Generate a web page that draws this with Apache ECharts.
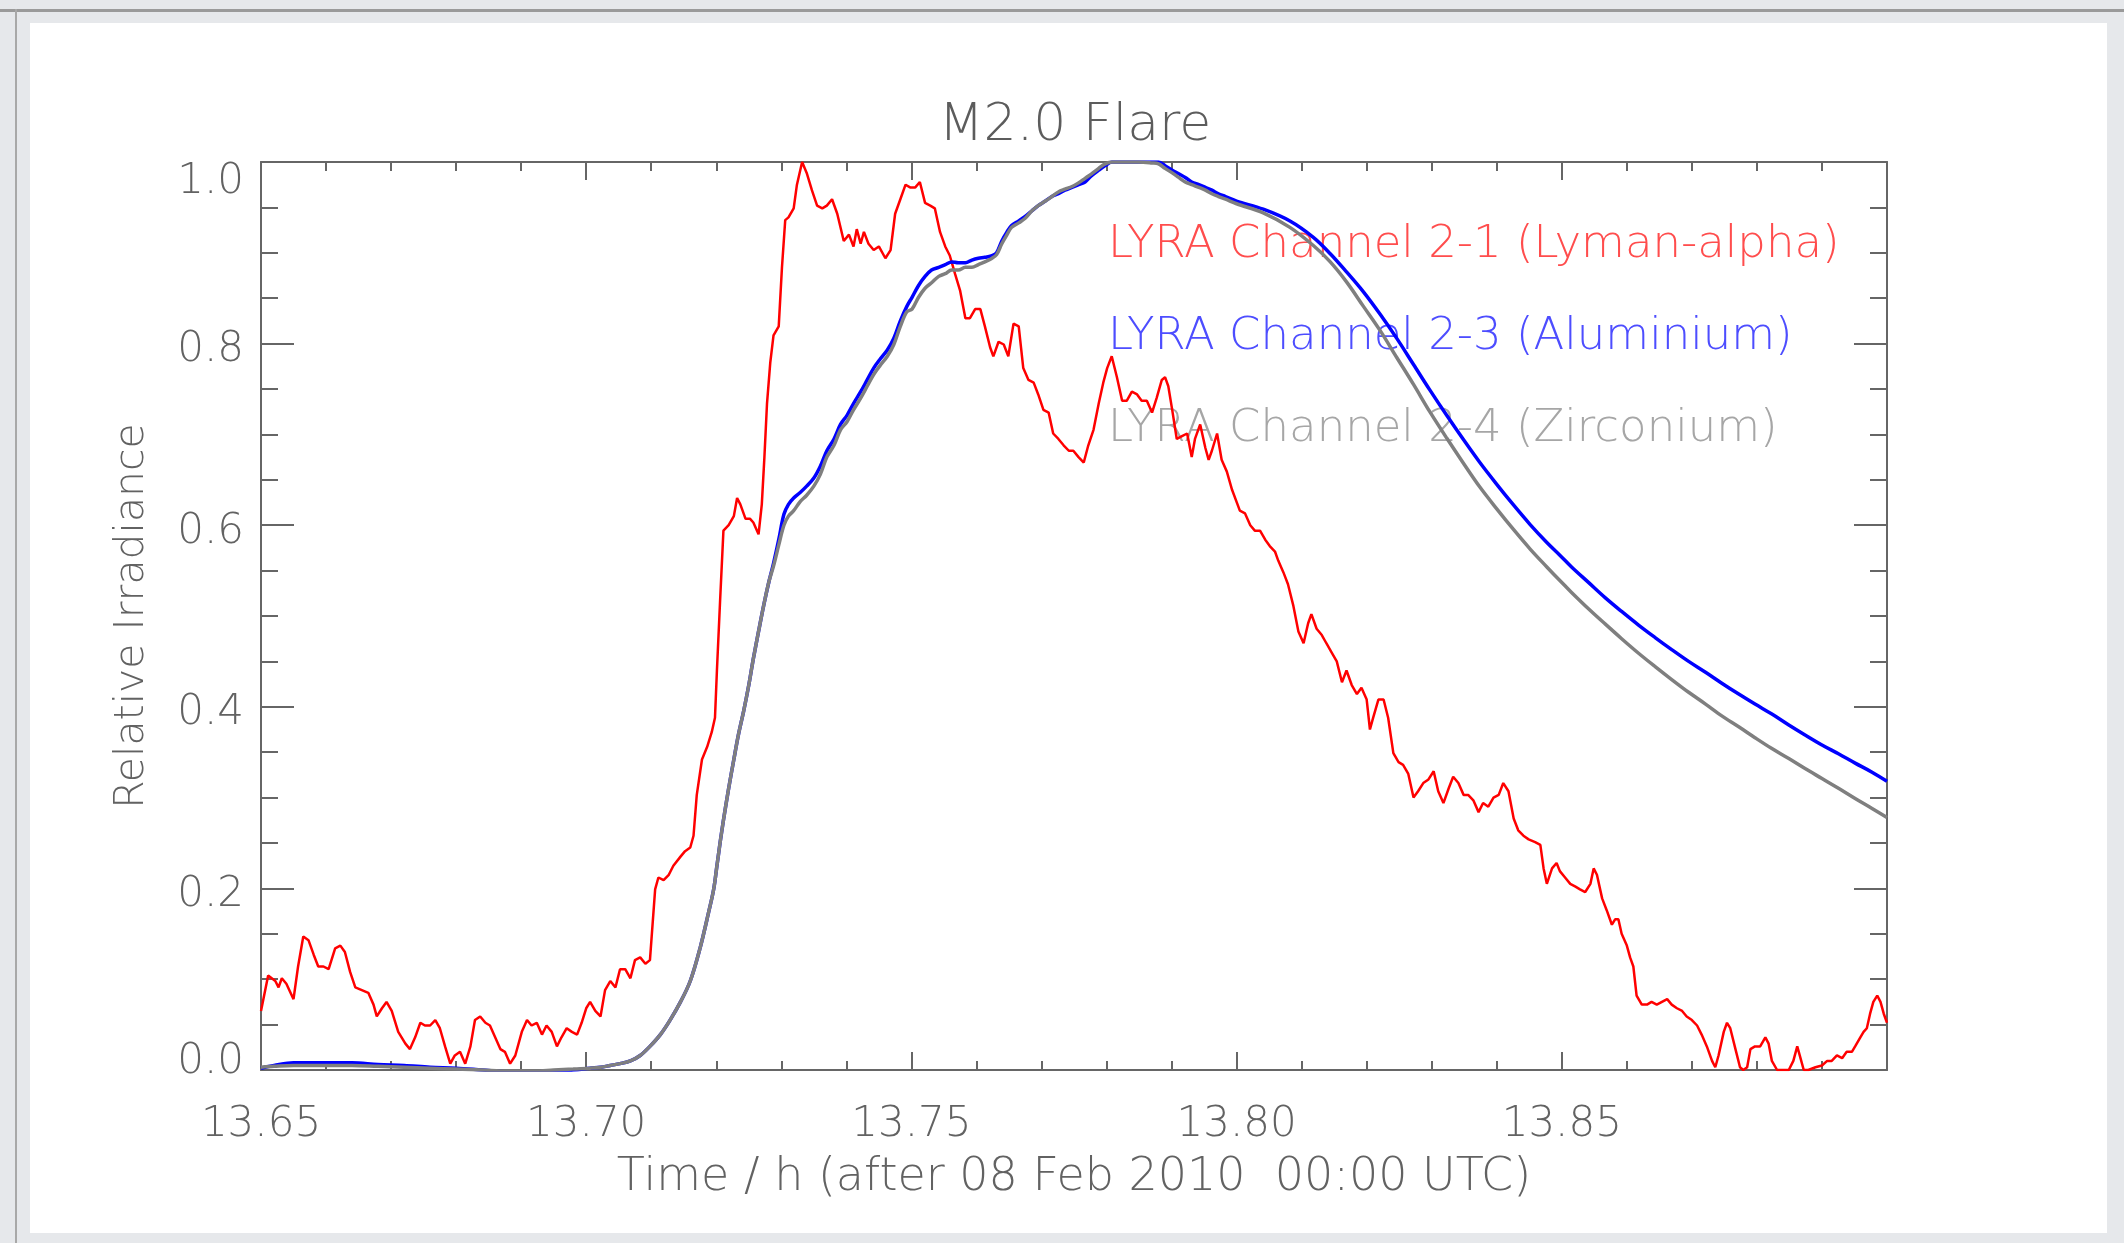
<!DOCTYPE html>
<html>
<head>
<meta charset="utf-8">
<title>M2.0 Flare</title>
<script src="https://cdn.jsdelivr.net/npm/echarts@6/dist/echarts.min.js"></script>
<style>
  html, body { margin: 0; padding: 0; width: 2124px; height: 1243px; overflow: hidden; background: #e6e8eb; }
  #topRule { position: absolute; left: 0; top: 9px; width: 2124px; height: 3px; background: #9a9a9a; }
  #leftRule { position: absolute; left: 15px; top: 9px; width: 2px; height: 1234px; background: #a8a8a8; }
  #panel { position: absolute; left: 30px; top: 23px; width: 2077px; height: 1210px; background: #ffffff; }
  #chart { position: absolute; left: 0; top: 0; width: 2124px; height: 1243px; }
</style>
</head>
<body>
<div id="topRule"></div>
<div id="leftRule"></div>
<div id="panel"></div>
<div id="chart"></div>
<script>
// Time axis, hours after 08 Feb 2010 00:00 UTC
const timeRange = [13.65, 13.90];
const timeStep = 0.05;
const irradianceRange = [0, 1];
const irradianceStep = 0.2;

// LYRA channel 2-1 (Lyman-alpha), normalised
const timeLyman = [
  13.6500,13.6511,13.6522,13.6527,13.6532,13.6539,13.6550,13.6557,13.6565,13.6573,
  13.6581,13.6588,13.6596,13.6604,13.6614,13.6622,13.6629,13.6637,13.6645,13.6655,
  13.6665,13.6673,13.6678,13.6686,13.6693,13.6701,13.6711,13.6722,13.6729,13.6737,
  13.6745,13.6752,13.6760,13.6768,13.6775,13.6783,13.6791,13.6798,13.6806,13.6814,
  13.6822,13.6829,13.6837,13.6845,13.6852,13.6860,13.6868,13.6875,13.6883,13.6891,
  13.6901,13.6909,13.6916,13.6924,13.6932,13.6939,13.6947,13.6955,13.6962,13.6970,
  13.6978,13.6986,13.6993,
  13.7000,13.7006,13.7014,13.7022,13.7029,13.7037,13.7045,13.7052,13.7060,13.7068,
  13.7075,13.7083,13.7091,13.7098,13.7106,13.7111,13.7119,13.7127,13.7134,13.7145,
  13.7152,13.7160,13.7165,13.7170,13.7178,13.7186,13.7193,13.7198,13.7201,13.7206,
  13.7211,13.7219,13.7227,13.7232,13.7237,13.7245,13.7252,13.7257,13.7265,13.7270,
  13.7274,13.7278,13.7283,13.7288,13.7296,13.7301,13.7306,13.7311,13.7319,13.7324,
  13.7332,13.7339,13.7347,13.7355,13.7363,13.7370,13.7378,13.7386,13.7396,13.7404,
  13.7411,13.7416,13.7422,13.7427,13.7434,13.7442,13.7450,13.7460,13.7468,13.7475,
  13.7483,13.7491,13.7498,
  13.7506,13.7513,13.7521,13.7529,13.7536,13.7544,13.7552,13.7559,13.7567,13.7575,
  13.7583,13.7590,13.7598,13.7606,13.7613,13.7621,13.7626,13.7634,13.7642,13.7649,
  13.7657,13.7665,13.7672,13.7680,13.7688,13.7695,13.7703,13.7711,13.7718,13.7726,
  13.7734,13.7742,13.7749,13.7757,13.7765,13.7772,13.7780,13.7788,13.7795,13.7801,
  13.7808,13.7816,13.7824,13.7831,13.7839,13.7847,13.7854,13.7862,13.7870,13.7877,
  13.7885,13.7890,13.7895,13.7901,13.7908,13.7916,13.7924,13.7931,13.7936,13.7944,
  13.7952,13.7957,13.7962,13.7970,13.7977,13.7985,13.7993,
  13.8005,13.8013,13.8021,13.8028,13.8036,13.8044,13.8051,13.8059,13.8064,13.8072,
  13.8079,13.8087,13.8095,13.8103,13.8110,13.8115,13.8123,13.8131,13.8138,13.8146,
  13.8154,13.8162,13.8169,13.8177,13.8185,13.8192,13.8200,13.8205,13.8210,13.8218,
  13.8226,13.8233,13.8241,13.8249,13.8256,13.8264,13.8272,13.8279,13.8287,13.8295,
  13.8303,13.8310,13.8318,13.8326,13.8333,13.8341,13.8349,13.8356,13.8364,13.8372,
  13.8379,13.8387,13.8395,13.8403,13.8410,13.8418,13.8426,13.8433,13.8441,13.8449,
  13.8459,13.8467,13.8472,13.8477,13.8485,13.8492,
  13.8497,13.8505,13.8513,13.8521,13.8528,13.8536,13.8544,13.8549,13.8554,13.8562,
  13.8569,13.8577,13.8582,13.8587,13.8592,13.8600,13.8605,13.8610,13.8615,13.8623,
  13.8631,13.8638,13.8646,13.8654,13.8662,13.8669,13.8677,13.8685,13.8692,13.8700,
  13.8708,13.8715,13.8723,13.8731,13.8736,13.8741,13.8749,13.8754,13.8759,13.8767,
  13.8774,13.8779,13.8785,13.8790,13.8797,13.8805,13.8813,13.8818,13.8823,13.8831,
  13.8838,13.8849,13.8856,13.8862,13.8867,13.8872,13.8879,13.8890,13.8900,13.8908,
  13.8915,13.8923,13.8931,13.8938,13.8946,13.8951,13.8959,13.8964,13.8969,13.8974,
  13.8979,13.8985,13.8990,13.8995,13.9000
];
const lymanAlpha = [
  0.065,0.104,0.098,0.091,0.101,0.095,0.078,0.114,0.147,0.143,
  0.127,0.114,0.114,0.111,0.134,0.137,0.130,0.108,0.091,0.088,
  0.085,0.072,0.059,0.068,0.075,0.065,0.042,0.029,0.023,0.036,
  0.052,0.049,0.049,0.055,0.046,0.026,0.007,0.016,0.020,0.007,
  0.026,0.055,0.059,0.052,0.049,0.036,0.023,0.020,0.007,0.016,
  0.042,0.055,0.049,0.052,0.039,0.049,0.042,0.026,0.036,0.046,
  0.042,0.039,0.052,
  0.068,0.075,0.065,0.059,0.088,0.098,0.091,0.111,0.111,0.101,
  0.121,0.124,0.117,0.121,0.199,0.212,0.209,0.215,0.225,0.235,
  0.241,0.245,0.258,0.303,0.342,0.356,0.372,0.388,0.440,0.519,
  0.594,0.600,0.610,0.630,0.623,0.607,0.607,0.603,0.590,0.623,
  0.675,0.734,0.779,0.809,0.819,0.884,0.936,0.939,0.949,0.975,
  1.000,0.988,0.969,0.952,0.949,0.952,0.959,0.943,0.913,0.920,
  0.907,0.926,0.910,0.923,0.910,0.903,0.907,0.894,0.903,0.943,
  0.959,0.975,0.972,
  0.972,0.978,0.955,0.952,0.949,0.923,0.907,0.897,0.877,0.858,
  0.828,0.828,0.838,0.838,0.819,0.796,0.786,0.802,0.799,0.786,
  0.822,0.819,0.773,0.760,0.757,0.744,0.727,0.724,0.701,0.695,
  0.688,0.682,0.682,0.675,0.669,0.688,0.705,0.734,0.757,0.773,
  0.786,0.763,0.737,0.737,0.747,0.744,0.737,0.737,0.724,0.740,
  0.760,0.763,0.753,0.727,0.695,0.698,0.701,0.675,0.695,0.711,
  0.685,0.672,0.682,0.701,0.672,0.659,0.639,
  0.616,0.613,0.600,0.594,0.594,0.584,0.577,0.571,0.561,0.548,
  0.535,0.512,0.483,0.470,0.492,0.502,0.486,0.479,0.470,0.460,
  0.450,0.427,0.440,0.424,0.414,0.421,0.408,0.375,0.388,0.408,
  0.408,0.388,0.349,0.339,0.336,0.326,0.300,0.307,0.316,0.320,
  0.329,0.307,0.294,0.310,0.323,0.316,0.303,0.303,0.297,0.284,
  0.294,0.290,0.300,0.303,0.316,0.307,0.277,0.264,0.258,0.254,
  0.251,0.248,0.222,0.205,0.222,0.228,
  0.219,0.212,0.205,0.202,0.199,0.196,0.205,0.222,0.215,0.189,
  0.176,0.160,0.166,0.166,0.150,0.137,0.124,0.114,0.082,0.072,
  0.072,0.075,0.072,0.075,0.078,0.072,0.068,0.065,0.059,0.055,
  0.049,0.039,0.026,0.010,0.003,0.016,0.042,0.052,0.046,0.023,
  0.003,0.000,0.003,0.023,0.026,0.026,0.036,0.029,0.010,0.000,
  0.000,0.000,0.010,0.026,0.013,0.000,0.000,0.003,0.005,0.010,
  0.010,0.016,0.013,0.020,0.020,0.026,0.036,0.042,0.046,0.062,
  0.075,0.082,0.075,0.062,0.052
];

// LYRA channels 2-3 (Aluminium) and 2-4 (Zirconium), normalised, common sampling
const timeEuv = [
  13.6500,13.6520,13.6550,13.6600,13.6640,13.6680,13.6720,13.6760,13.6800,13.6840,
  13.6880,13.6920,13.6950,13.6980,13.7006,13.7022,13.7037,13.7052,13.7068,13.7083,
  13.7098,13.7114,13.7129,13.7145,13.7160,13.7175,13.7188,13.7196,13.7201,13.7206,
  13.7211,13.7219,13.7227,13.7234,13.7242,13.7250,13.7257,13.7265,13.7273,13.7281,
  13.7288,13.7296,13.7304,13.7311,13.7319,13.7329,13.7339,13.7350,13.7360,13.7370,
  13.7381,13.7391,13.7401,13.7411,13.7422,13.7432,13.7442,13.7452,13.7463,13.7473,
  13.7483,13.7493,13.7501,13.7511,13.7521,13.7531,13.7542,13.7552,13.7562,13.7572,
  13.7583,13.7593,13.7603,13.7613,13.7624,13.7631,13.7639,13.7647,13.7654,13.7665,
  13.7675,13.7685,13.7695,13.7706,13.7716,13.7726,13.7736,13.7747,13.7757,13.7767,
  13.7777,13.7788,13.7798,13.7808,13.7818,13.7849,13.7870,13.7880,13.7890,13.7901,
  13.7911,13.7921,13.7931,13.7942,13.7952,13.7962,13.7972,13.7983,13.8000,13.8041,
  13.8082,13.8118,13.8144,13.8169,13.8195,13.8221,13.8246,13.8272,13.8297,13.8323,
  13.8349,13.8374,13.8400,13.8426,13.8451,13.8477,13.8497,13.8515,13.8541,13.8567,
  13.8592,13.8618,13.8644,13.8669,13.8695,13.8721,13.8746,13.8772,13.8797,13.8823,
  13.8849,13.8874,13.8900,13.8926,13.8951,13.8977,13.9000
];
const aluminium = [
  0.002,0.005,0.008,0.008,0.008,0.006,0.005,0.003,0.002,0.000,
  -0.002,-0.002,-0.001,0.000,0.002,0.003,0.005,0.007,0.010,0.016,
  0.026,0.039,0.055,0.075,0.098,0.134,0.173,0.199,0.225,0.251,
  0.275,0.310,0.342,0.369,0.395,0.424,0.453,0.483,0.512,0.538,
  0.558,0.584,0.612,0.623,0.630,0.636,0.643,0.652,0.665,0.682,
  0.695,0.711,0.721,0.734,0.747,0.760,0.773,0.783,0.793,0.806,
  0.825,0.841,0.851,0.864,0.874,0.881,0.884,0.887,0.890,0.889,
  0.889,0.892,0.894,0.895,0.897,0.900,0.913,0.923,0.930,0.935,
  0.940,0.946,0.952,0.957,0.962,0.965,0.969,0.972,0.975,0.978,
  0.985,0.991,0.996,1.000,1.000,1.000,1.000,1.000,0.996,0.991,
  0.987,0.983,0.978,0.975,0.972,0.969,0.965,0.962,0.957,0.948,
  0.935,0.917,0.899,0.879,0.857,0.832,0.806,0.777,0.749,0.721,
  0.694,0.669,0.645,0.622,0.601,0.581,0.567,0.554,0.537,0.520,
  0.505,0.490,0.476,0.463,0.450,0.438,0.426,0.414,0.403,0.392,
  0.380,0.369,0.358,0.348,0.338,0.328,0.318
];
const zirconium = [
  0.003,0.004,0.005,0.005,0.005,0.004,0.003,0.002,0.001,0.000,
  -0.001,-0.001,0.000,0.001,0.002,0.003,0.005,0.007,0.010,0.016,
  0.026,0.039,0.055,0.075,0.098,0.134,0.173,0.199,0.225,0.251,
  0.275,0.310,0.342,0.369,0.395,0.424,0.453,0.483,0.512,0.538,
  0.555,0.578,0.600,0.610,0.616,0.626,0.633,0.643,0.656,0.675,
  0.688,0.705,0.714,0.727,0.740,0.753,0.766,0.776,0.786,0.799,
  0.819,0.835,0.838,0.851,0.861,0.867,0.874,0.877,0.881,0.881,
  0.884,0.884,0.887,0.890,0.894,0.898,0.910,0.920,0.928,0.933,
  0.938,0.946,0.952,0.957,0.962,0.967,0.970,0.973,0.977,0.982,
  0.987,0.993,0.998,1.000,1.000,1.000,0.999,0.998,0.993,0.988,
  0.983,0.978,0.975,0.972,0.969,0.965,0.962,0.959,0.954,0.944,
  0.928,0.908,0.890,0.868,0.841,0.814,0.785,0.755,0.725,0.696,
  0.668,0.642,0.618,0.595,0.574,0.554,0.539,0.526,0.508,0.491,
  0.475,0.459,0.444,0.430,0.416,0.403,0.390,0.378,0.366,0.354,
  0.343,0.332,0.321,0.310,0.299,0.288,0.278
];

const seriesNames = [
  'LYRA Channel 2-1 (Lyman-alpha)',
  'LYRA Channel 2-3 (Aluminium)',
  'LYRA Channel 2-4 (Zirconium)'
];

const pairs = (t, v) => t.map((x, i) => [x, v[i]]);

const FONT = '"DejaVu Sans", sans-serif';
const WEIGHT = 200;
const AXIS_GREY = '#666666';
const TEXT_GREY = '#626262';

function timeAxis(position, showLabels) {
  return {
    type: 'value',
    position: position,
    min: timeRange[0],
    max: timeRange[1],
    interval: timeStep,
    axisLine: { show: true, onZero: false, lineStyle: { color: AXIS_GREY, width: 2 } },
    axisTick: { show: true, inside: true, length: 18, lineStyle: { color: AXIS_GREY, width: 2 } },
    minorTick: { show: true, splitNumber: 5, length: 9, lineStyle: { color: AXIS_GREY, width: 2 } },
    splitLine: { show: false },
    minorSplitLine: { show: false },
    axisLabel: {
      show: showLabels,
      showMaxLabel: false,
      margin: 34,
      color: TEXT_GREY,
      fontFamily: FONT,
      fontWeight: WEIGHT,
      fontSize: 42,
      formatter: v => v.toFixed(2)
    },
    name: showLabels ? 'Time / h (after 08 Feb 2010  00:00 UTC)' : '',
    nameLocation: 'middle',
    nameGap: 85,
    nameTextStyle: { color: TEXT_GREY, fontFamily: FONT, fontWeight: WEIGHT, fontSize: 46 }
  };
}

function irradianceAxis(position, showLabels) {
  const labelFont = { color: TEXT_GREY, fontFamily: FONT, fontWeight: WEIGHT, fontSize: 42 };
  return {
    type: 'value',
    position: position,
    min: irradianceRange[0],
    max: irradianceRange[1],
    interval: irradianceStep,
    axisLine: { show: true, onZero: false, lineStyle: { color: AXIS_GREY, width: 2 } },
    axisTick: { show: true, inside: true, length: 33, lineStyle: { color: AXIS_GREY, width: 2 } },
    minorTick: { show: true, splitNumber: 4, length: 17, lineStyle: { color: AXIS_GREY, width: 2 } },
    splitLine: { show: false },
    minorSplitLine: { show: false },
    axisLabel: {
      show: showLabels,
      margin: 17,
      color: TEXT_GREY,
      fontFamily: FONT,
      fontWeight: WEIGHT,
      fontSize: 42,
      formatter: v => {
        const s = v.toFixed(1);
        if (v >= irradianceRange[1]) return '{top|' + s + '}';
        if (v <= irradianceRange[0]) return '{bot|' + s + '}';
        return '{mid|' + s + '}';
      },
      rich: {
        top: Object.assign({ padding: [40, 0, 0, 0] }, labelFont),
        mid: Object.assign({ padding: [13, 0, 0, 0] }, labelFont),
        bot: Object.assign({ padding: [0, 0, 16, 0] }, labelFont)
      }
    },
    name: showLabels ? 'Relative Irradiance' : '',
    nameLocation: 'middle',
    nameGap: 108,
    nameTextStyle: { color: TEXT_GREY, fontFamily: FONT, fontWeight: WEIGHT, fontSize: 41 }
  };
}

const chart = echarts.init(document.getElementById('chart'), null, { renderer: 'canvas' });

chart.setOption({
  animation: false,
  backgroundColor: 'transparent',
  title: {
    text: 'M2.0 Flare',
    left: 1070,
    top: 95,
    textAlign: 'center',
    textStyle: { color: '#5c5c5c', fontFamily: FONT, fontSize: 52, fontWeight: WEIGHT }
  },
  legend: {
    orient: 'vertical',
    left: 1098,
    top: 218,
    z: 1,
    icon: 'none',
    itemWidth: 0,
    itemHeight: 40,
    itemGap: 47,
    selectedMode: false,
    textStyle: { fontFamily: FONT, fontWeight: WEIGHT, fontSize: 45, lineHeight: 40 },
    data: [
      { name: seriesNames[0], textStyle: { color: '#ff4d4d' } },
      { name: seriesNames[1], textStyle: { color: '#4d4dff' } },
      { name: seriesNames[2], textStyle: { color: '#a6a6a6' } }
    ]
  },
  grid: { left: 261, top: 162, width: 1626, height: 908, outerBoundsMode: 'none' },
  xAxis: [timeAxis('bottom', true), timeAxis('top', false)],
  yAxis: [irradianceAxis('left', true), irradianceAxis('right', false)],
  series: [
    {
      name: seriesNames[0], type: 'line', data: pairs(timeLyman, lymanAlpha),
      showSymbol: false, symbol: 'none', clip: true, z: 2,
      lineStyle: { color: '#ff0000', width: 2.5 }, itemStyle: { color: '#ff0000' }
    },
    {
      name: seriesNames[1], type: 'line', data: pairs(timeEuv, aluminium),
      showSymbol: false, symbol: 'none', clip: true, z: 3, smooth: 0.35,
      lineStyle: { color: '#0000ff', width: 3.5 }, itemStyle: { color: '#0000ff' }
    },
    {
      name: seriesNames[2], type: 'line', data: pairs(timeEuv, zirconium),
      showSymbol: false, symbol: 'none', clip: true, z: 4, smooth: 0.35,
      lineStyle: { color: '#7f7f7f', width: 3.5 }, itemStyle: { color: '#7f7f7f' }
    }
  ]
});
</script>
</body>
</html>
